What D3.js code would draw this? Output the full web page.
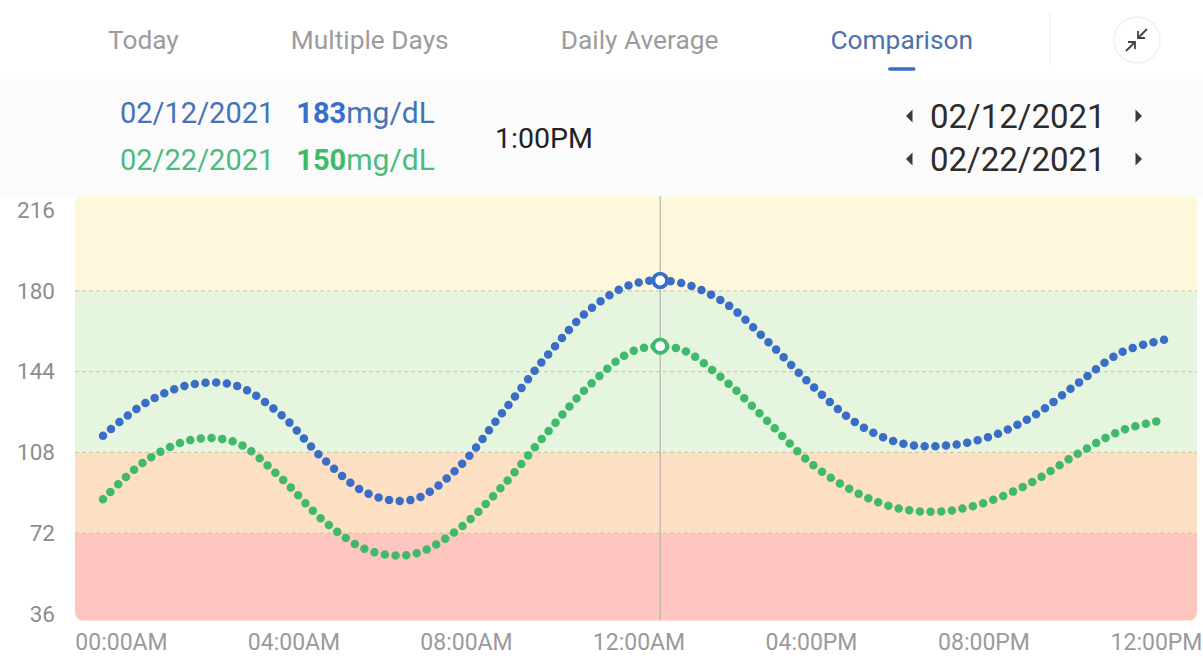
<!DOCTYPE html>
<html>
<head>
<meta charset="utf-8">
<script src="https://cdn.jsdelivr.net/npm/d3@7"></script>
<style>
  body { margin: 0; background: #fff; font-family: Roboto, "Noto Sans", sans-serif; }
  svg { display: block; }
</style>
</head>
<body>
<div id="root"></div>
<script>
// ---- data ----
var tabs = ["Today", "Multiple Days", "Daily Average", "Comparison"];
var activeTab = "Comparison";
var compareDates = ["02/12/2021", "02/22/2021"];
var readouts = [183, 150];
var selectedTimeLabel = "1:00PM";
var selectedHour = 12.58;

var hours = d3.range(0, 25);
var glucoseA = [115.4, 130.5, 138.3, 137.8, 125.1, 104.6, 89.5, 87.0, 100.8, 125.3, 150.5, 171.9,
                183.3, 183.7, 175.2, 157.6, 138.0, 121.2, 112.2, 111.0, 114.9, 124.2, 138.7, 152.7, 158.4];
var glucoseB = [87.1, 104.8, 113.6, 112.5, 97.0, 77.2, 64.3, 62.7, 73.4, 92.6, 116.2, 138.2,
                153.4, 154.2, 140.7, 122.0, 102.9, 90.2, 82.9, 81.8, 86.2, 95.0, 107.3, 117.8, 122.7];

var yTicks = [36, 72, 108, 144, 180, 216];
var gridValues = [72, 108, 144, 180];
var xLabels = ["00:00AM", "04:00AM", "08:00AM", "12:00AM", "04:00PM", "08:00PM", "12:00PM"];
// glucose ranges: [low, high]
var bandRanges = [[180, 222.3], [108, 180], [72, 108], [33, 72]];

// ---- styling ----
var W = 1203, H = 661;
var bandColors = ["#fdf8dc", "#e6f5de", "#fddfc4", "#fdc7c0"];
var seriesColors = ["#3a6dc8", "#3fb96a"];
var labelColors = ["#4672b8", "#4dba7e"];
var plotLeft = 75, plotRight = 1197;

var svg = d3.select("#root").append("svg")
    .attr("width", W)
    .attr("height", H);

var x = d3.scaleLinear().domain([0, 24]).range([103, 1166]);
var y = d3.scaleLinear().domain([33, 222.3]).range([620.7, 196]);

// ---- tabs ----
var tabG = svg.append("g");
var tx = 108;
tabs.forEach(function (t) {
    var txt = tabG.append("text")
        .attr("x", tx)
        .attr("y", 49)
        .attr("font-size", 26.3)
        .attr("fill", t === activeTab ? "#4a74aa" : "#9c9c9c")
        .text(t);
    var w = txt.node().getComputedTextLength();
    if (t === activeTab) {
        tabG.append("line")
            .attr("x1", tx + w / 2 - 12).attr("x2", tx + w / 2 + 12)
            .attr("y1", 69).attr("y2", 69)
            .attr("stroke", "#3a6dc0")
            .attr("stroke-width", 3.5)
            .attr("stroke-linecap", "round");
    }
    tx += w + 112;
});

tabG.append("line")
    .attr("x1", 1050).attr("x2", 1050)
    .attr("y1", 12).attr("y2", 66)
    .attr("stroke", "#eeeeee");

// collapse icon
var icon = svg.append("g").attr("transform", "translate(1137,40)");
icon.append("circle").attr("r", 23).attr("fill", "#fff").attr("stroke", "#f1f1f1").attr("stroke-width", 1.5);
var iconPaths = ["M10,-11 L1,-2 M1,-9 L1,-2 L8,-2", "M-11,11 L-2,2 M-9,2 L-2,2 L-2,9"];
icon.selectAll("path").data(iconPaths).enter().append("path")
    .attr("d", function (d) { return d; })
    .attr("fill", "none")
    .attr("stroke", "#444")
    .attr("stroke-width", 1.8);

// ---- header panel ----
svg.append("rect")
    .attr("x", 0).attr("y", 79)
    .attr("width", W).attr("height", 118)
    .attr("fill", "#fbfbfb");

var readG = svg.append("g");
compareDates.forEach(function (d, i) {
    var t = readG.append("text")
        .attr("x", 120)
        .attr("y", 123 + i * 47)
        .attr("font-size", 29)
        .attr("fill", labelColors[i]);
    t.append("tspan").text(d);
    t.append("tspan").attr("dx", 22).attr("font-weight", "bold").attr("fill", seriesColors[i]).text(readouts[i]);
    t.append("tspan").attr("font-size", 30).text("mg/dL");
});

readG.append("text")
    .attr("x", 495).attr("y", 148)
    .attr("font-size", 28.5)
    .attr("fill", "#222")
    .text(selectedTimeLabel);

compareDates.forEach(function (d, i) {
    var cy = 116 + i * 43;
    readG.append("text")
        .attr("x", 930).attr("y", cy + 12)
        .attr("font-size", 33)
        .attr("fill", "#2c2c2c")
        .text(d);
    readG.append("path")
        .attr("d", "M" + 906 + "," + cy + " l6.5,-6.5 l0,13 z")
        .attr("fill", "#3a3a3a");
    readG.append("path")
        .attr("d", "M" + 1142 + "," + cy + " l-6.5,-6.5 l0,13 z")
        .attr("fill", "#3a3a3a");
});

// ---- plot background bands ----
svg.append("clipPath").attr("id", "plotClip")
    .append("rect")
    .attr("x", plotLeft).attr("y", y(222.3))
    .attr("width", plotRight - plotLeft)
    .attr("height", y(33) - y(222.3))
    .attr("rx", 8);

var plot = svg.append("g").attr("clip-path", "url(#plotClip)");
plot.selectAll("rect.band").data(bandRanges).enter().append("rect")
    .classed("band", true)
    .attr("x", plotLeft)
    .attr("width", plotRight - plotLeft)
    .attr("y", function (d) { return y(d[1]); })
    .attr("height", function (d) { return y(d[0]) - y(d[1]); })
    .attr("fill", function (d, i) { return bandColors[i]; });

plot.selectAll("line.grid").data(gridValues).enter().append("line")
    .classed("grid", true)
    .attr("x1", plotLeft).attr("x2", plotRight)
    .attr("y1", function (d) { return y(d); })
    .attr("y2", function (d) { return y(d); })
    .attr("stroke", "#cdbfa6")
    .attr("stroke-width", 1)
    .attr("stroke-dasharray", "4,3");

// crosshair
plot.append("line")
    .attr("x1", x(selectedHour)).attr("x2", x(selectedHour))
    .attr("y1", y(222.3)).attr("y2", y(33))
    .attr("stroke", "#a9a9a9")
    .attr("stroke-width", 1);

// ---- axes ----
var yAxis = svg.append("g")
    .attr("transform", "translate(" + plotLeft + ",0)")
    .call(d3.axisLeft(y).tickValues(yTicks).tickSize(0).tickPadding(20));
yAxis.select(".domain").remove();
yAxis.selectAll("text")
    .attr("font-family", "Roboto, sans-serif")
    .attr("font-size", 22.5)
    .attr("fill", "#8d8d8d");

var xl = d3.scalePoint().domain(xLabels).range([121, 1156]);
var xAxis = svg.append("g")
    .attr("transform", "translate(0,630)")
    .call(d3.axisBottom(xl).tickSize(0).tickPadding(4));
xAxis.select(".domain").remove();
xAxis.selectAll("text")
    .attr("font-family", "Roboto, sans-serif")
    .attr("font-size", 23)
    .attr("fill", "#9a9a9a");

// ---- dotted series ----
var line = d3.line()
    .x(function (d) { return x(d[0]); })
    .y(function (d) { return y(d[1]); })
    .curve(d3.curveCatmullRom.alpha(0.5));

function yAtX(node, px) {
    var lo = 0, hi = node.getTotalLength();
    for (var k = 0; k < 40; k++) {
        var mid = (lo + hi) / 2;
        if (node.getPointAtLength(mid).x < px) lo = mid; else hi = mid;
    }
    return node.getPointAtLength(lo).y;
}

[glucoseA, glucoseB].forEach(function (vals, i) {
    var pts = hours.map(function (h, j) { return [h, vals[j]]; });
    var p = svg.append("path")
        .datum(pts)
        .attr("d", line)
        .attr("fill", "none")
        .attr("stroke", seriesColors[i])
        .attr("stroke-width", 8.5)
        .attr("stroke-linecap", "round")
        .attr("stroke-dasharray", "0 10.7");
    var cx = x(selectedHour);
    svg.append("circle")
        .attr("cx", cx)
        .attr("cy", yAtX(p.node(), cx))
        .attr("r", 6.8)
        .attr("fill", "#fff")
        .attr("stroke", seriesColors[i])
        .attr("stroke-width", 3.8);
});
</script>
</body>
</html>
